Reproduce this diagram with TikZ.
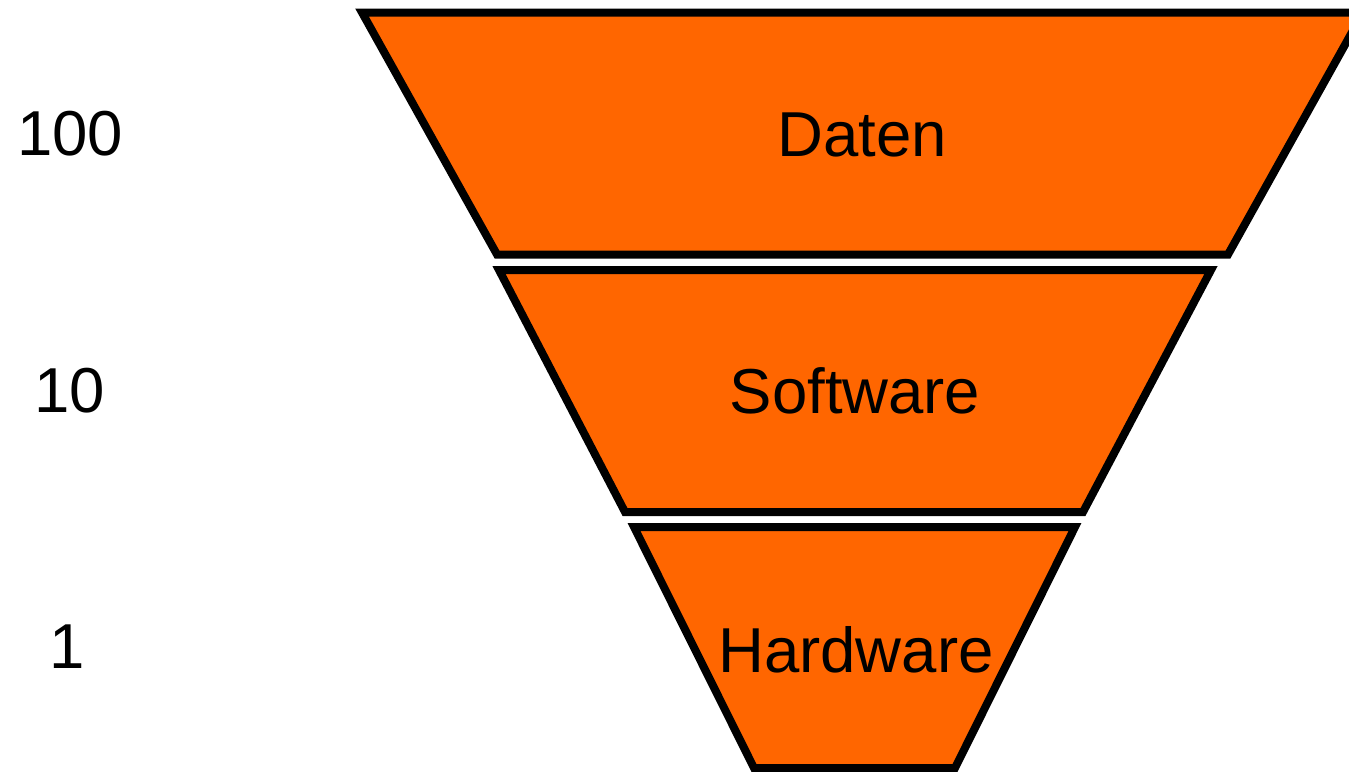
\documentclass[tikz,border=0pt]{standalone}
\usepackage{fontspec}
\setmainfont{Liberation Sans}
\definecolor{funnel}{HTML}{FF6600}
\begin{document}
\begin{tikzpicture}[x=1pt,y=-1pt,
  layer/.style={fill=funnel,draw=black,line width=8pt,line join=miter},
  lbl/.style={anchor=base,inner sep=0pt,font=\fontsize{63.5}{70}\selectfont}]
\useasboundingbox (0,0) rectangle (1349,771);
\draw[layer] (362,12.5) -- (1363,12.5) -- (1228,254.5) -- (497,254.5) -- cycle;
\draw[layer] (499,270) -- (1211,270) -- (1083,512) -- (625,512) -- cycle;
\draw[layer] (634,527) -- (1075,527) -- (955,768) -- (754,768) -- cycle;
\node[lbl] (daten) at (862,156) {Daten};
\node[lbl] (software) at (855,413) {Software};
\node[lbl] (hardware) at (856,672) {Hardware};
\node[lbl] (n100) at (70,155) {100};
\node[lbl] (n10) at (70,412) {10};
\node[lbl] (n1) at (67,668) {1};
\end{tikzpicture}
\end{document}
